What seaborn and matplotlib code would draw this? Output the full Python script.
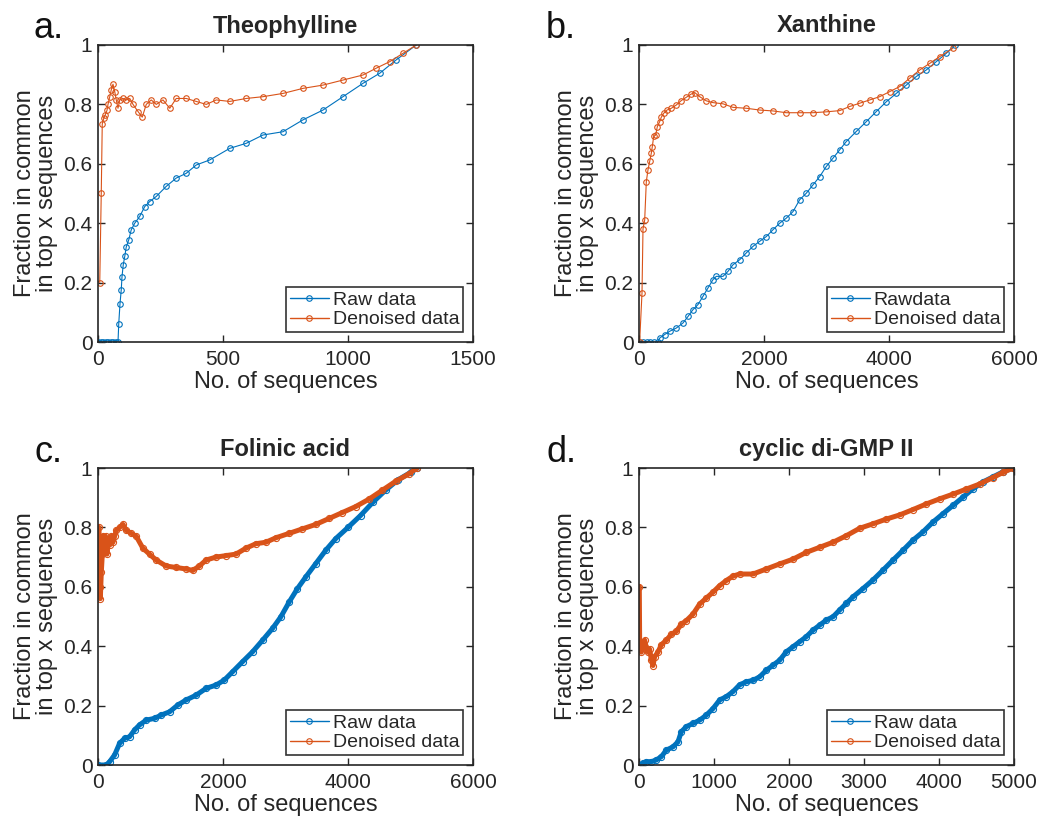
import numpy as np
import pandas as pd
import matplotlib
matplotlib.use("Agg")
import matplotlib.pyplot as plt
import seaborn as sns

sns.set_style("ticks")
plt.rcParams['font.family'] = ['Liberation Sans', 'DejaVu Sans']

BLUE = "#0072BD"
ORANGE = "#D95319"

# ---------------- data ----------------
# a. Theophylline
a_raw_x = [0, 10, 20, 30, 40, 50, 60, 70, 80, 83, 88, 93, 96, 101, 107, 113, 123, 133, 147, 167, 187, 207, 233, 273, 313,
           353, 393, 447, 527, 593, 660, 740, 820, 900, 980, 1060, 1127, 1193, 1273]
a_raw_y = [0, 0, 0, 0, 0, 0, 0, 0, 0, 0.062, 0.129, 0.176, 0.22, 0.26, 0.288, 0.32, 0.344, 0.378, 0.40, 0.423, 0.456, 0.473,
           0.49, 0.524, 0.552, 0.568, 0.596, 0.613, 0.652, 0.669, 0.697, 0.708, 0.748, 0.781, 0.826, 0.871, 0.905, 0.95, 1.0]
a_den_x = [7, 13, 17, 23, 29, 36, 40, 47, 53, 60, 67, 73, 80, 87, 100, 113, 127, 140, 160, 177, 193, 213, 233, 260, 287,
           313, 353, 393, 433, 473, 527, 593, 660, 740, 820, 900, 980, 1060, 1113, 1167, 1220, 1273]
a_den_y = [0.20, 0.50, 0.734, 0.753, 0.765, 0.78, 0.80, 0.826, 0.849, 0.868, 0.843, 0.815, 0.787, 0.815, 0.82, 0.815, 0.82,
           0.80, 0.776, 0.757, 0.80, 0.815, 0.80, 0.815, 0.787, 0.82, 0.82, 0.81, 0.80, 0.815, 0.81, 0.82, 0.826, 0.837,
           0.854, 0.865, 0.882, 0.899, 0.922, 0.944, 0.972, 1.0]

# b. Xanthine
b_raw_x = [0, 60, 120, 180, 240, 304, 330, 410, 490, 597, 704, 784, 864, 944, 1024, 1104, 1184, 1237, 1344, 1424, 1504,
           1611, 1717, 1824, 1931, 2037, 2144, 2251, 2357, 2464, 2571, 2677, 2784, 2891, 2997, 3104, 3211, 3317, 3477,
           3637, 3797, 3957, 4117, 4277, 4437, 4597, 4757, 4917, 5051]
b_raw_y = [0, 0, 0, 0, 0, 0, 0.013, 0.025, 0.036, 0.047, 0.064, 0.086, 0.109, 0.126, 0.154, 0.182, 0.21, 0.221, 0.221,
           0.238, 0.26, 0.277, 0.30, 0.322, 0.339, 0.355, 0.378, 0.40, 0.417, 0.439, 0.479, 0.501, 0.529, 0.557, 0.591,
           0.619, 0.647, 0.675, 0.709, 0.742, 0.776, 0.809, 0.837, 0.865, 0.894, 0.916, 0.944, 0.972, 1.0]
b_den_x = [10, 48, 64, 91, 117, 144, 171, 197, 213, 235, 267, 293, 331, 357, 395, 448, 517, 597, 677, 757, 837, 891, 971,
           1077, 1184, 1344, 1504, 1717, 1931, 2144, 2357, 2571, 2784, 2997, 3211, 3371, 3531, 3691, 3851, 4011, 4171,
           4331, 4491, 4651, 4811, 5024]
b_den_y = [0, 0.165, 0.381, 0.411, 0.54, 0.58, 0.608, 0.636, 0.658, 0.692, 0.697, 0.725, 0.742, 0.757, 0.77, 0.781, 0.787,
           0.798, 0.813, 0.824, 0.835, 0.84, 0.826, 0.812, 0.806, 0.802, 0.79, 0.787, 0.781, 0.778, 0.772, 0.772, 0.772,
           0.775, 0.779, 0.793, 0.804, 0.815, 0.826, 0.843, 0.86, 0.888, 0.916, 0.938, 0.961, 0.989]

# c. Folinic acid
c_raw_x = [0, 133, 186, 266, 346, 426, 505, 585, 665, 771, 904, 1011, 1144, 1277, 1410, 1569, 1729, 1888, 2021, 2154,
           2314, 2473, 2633, 2793, 2926, 3059, 3191, 3324, 3484, 3644, 3803, 4000, 4200, 4400, 4600, 4800, 5000, 5106]
c_raw_y = [0, 0, 0.011, 0.034, 0.073, 0.09, 0.095, 0.118, 0.135, 0.151, 0.157, 0.168, 0.179, 0.202, 0.219, 0.235, 0.258,
           0.269, 0.286, 0.314, 0.348, 0.381, 0.42, 0.46, 0.499, 0.549, 0.594, 0.633, 0.678, 0.723, 0.762, 0.80, 0.84,
           0.885, 0.925, 0.96, 0.985, 1.0]
c_den_x = [16, 27, 37, 53, 69, 80, 106, 122, 144, 160, 186, 213, 239, 266, 293, 346, 399, 452, 532, 612, 718, 824, 931,
           1090, 1250, 1410, 1516, 1622, 1729, 1888, 2048, 2207, 2367, 2527, 2686, 2846, 3059, 3271, 3484, 3697, 3910,
           4122, 4335, 4548, 4761, 4973, 5106]
c_den_y = [0.80, 0.60, 0.56, 0.65, 0.71, 0.77, 0.73, 0.77, 0.71, 0.76, 0.74, 0.77, 0.75, 0.77, 0.79, 0.80, 0.81, 0.79,
           0.78, 0.77, 0.73, 0.71, 0.69, 0.67, 0.665, 0.66, 0.655, 0.67, 0.69, 0.70, 0.705, 0.71, 0.73, 0.745, 0.75,
           0.765, 0.78, 0.795, 0.81, 0.83, 0.85, 0.87, 0.895, 0.925, 0.955, 0.98, 1.0]

# d. cyclic di-GMP II
d_raw_x = [0, 53, 98, 164, 231, 298, 364, 453, 520, 564, 631, 720, 809, 898, 987, 1076, 1164, 1253, 1342, 1431, 1520,
           1609, 1698, 1787, 1876, 1964, 2053, 2142, 2231, 2320, 2409, 2498, 2587, 2676, 2764, 2853, 2987, 3120, 3253,
           3387, 3520, 3653, 3787, 3920, 4053, 4187, 4320, 4453, 4587, 4720, 4853, 4987]
d_raw_y = [0, 0.006, 0.011, 0.011, 0.017, 0.028, 0.05, 0.061, 0.078, 0.112, 0.129, 0.14, 0.151, 0.168, 0.19, 0.219, 0.23,
           0.247, 0.27, 0.28, 0.285, 0.297, 0.319, 0.336, 0.353, 0.381, 0.398, 0.415, 0.432, 0.454, 0.471, 0.488, 0.499,
           0.522, 0.544, 0.566, 0.594, 0.623, 0.656, 0.69, 0.723, 0.757, 0.785, 0.818, 0.846, 0.874, 0.902, 0.93, 0.953,
           0.97, 0.987, 1.0]
d_den_x = [4, 9, 31, 53, 76, 98, 120, 142, 164, 187, 209, 253, 298, 364, 431, 498, 564, 631, 720, 809, 898, 987, 1076,
           1164, 1253, 1342, 1520, 1698, 1876, 2053, 2231, 2409, 2587, 2764, 2942, 3120, 3298, 3476, 3653, 3831, 4009,
           4187, 4364, 4542, 4720, 4853, 4987]
d_den_y = [0.60, 0.40, 0.38, 0.40, 0.42, 0.395, 0.38, 0.39, 0.355, 0.335, 0.365, 0.38, 0.405, 0.42, 0.44, 0.45, 0.474,
           0.486, 0.508, 0.542, 0.562, 0.582, 0.604, 0.621, 0.636, 0.643, 0.643, 0.66, 0.677, 0.693, 0.716, 0.733, 0.75,
           0.772, 0.797, 0.812, 0.828, 0.842, 0.86, 0.879, 0.896, 0.912, 0.929, 0.946, 0.968, 0.985, 1.0]

titles = ["Theophylline", "Xanthine", "Folinic acid", "cyclic di-GMP II"]
letters = ["a.", "b.", "c.", "d."]
raw_labels = ["Raw data", "Rawdata", "Raw data", "Raw data"]
den_label = "Denoised data"
xlims = [1500, 6000, 6000, 5000]
xticks = [[0, 500, 1000, 1500], [0, 2000, 4000, 6000], [0, 2000, 4000, 6000], [0, 1000, 2000, 3000, 4000, 5000]]
yticks = [0, 0.2, 0.4, 0.6, 0.8, 1]
ytick_labels = ["0", "0.2", "0.4", "0.6", "0.8", "1"]

series = [(a_raw_x, a_raw_y, a_den_x, a_den_y), (b_raw_x, b_raw_y, b_den_x, b_den_y),
          (c_raw_x, c_raw_y, c_den_x, c_den_y), (d_raw_x, d_raw_y, d_den_x, d_den_y)]

fig = plt.figure(figsize=(10.4, 8.22), dpi=100)
W, H = 1040, 822
boxes = [(98, 45, 473, 342), (639, 45, 1014, 342), (98, 468, 473, 765), (639, 468, 1014, 765)]
letter_pos = [(49, 28), (561, 28), (49, 452), (561, 452)]

for i, (l, t, r, b) in enumerate(boxes):
    ax = fig.add_axes([l / W, 1 - b / H, (r - l) / W, (b - t) / H])
    rx, ry, dx, dy = series[i]
    thick = i >= 2
    lw = 3.6 if thick else 0.8
    ms = 4.4 if thick else 4.0
    df_r = pd.DataFrame({"x": rx, "y": ry})
    df_d = pd.DataFrame({"x": dx, "y": dy})
    sns.lineplot(data=df_r, x="x", y="y", ax=ax, color=BLUE, lw=lw, marker="o", markersize=ms,
                 markerfacecolor="none", markeredgecolor=BLUE, markeredgewidth=0.8,
                 sort=False, estimator=None, label=raw_labels[i])
    sns.lineplot(data=df_d, x="x", y="y", ax=ax, color=ORANGE, lw=lw, marker="o", markersize=ms,
                 markerfacecolor="none", markeredgecolor=ORANGE, markeredgewidth=0.8,
                 sort=False, estimator=None, label=den_label)
    ax.set_xlim(0, xlims[i])
    ax.set_ylim(0, 1)
    ax.set_xticks(xticks[i])
    ax.set_xticklabels([str(v) for v in xticks[i]])
    ax.set_yticks(yticks)
    ax.set_yticklabels(ytick_labels)
    ax.tick_params(direction="in", top=True, right=True, length=5, width=1.0, labelsize=15,
                   colors="#262626", labelcolor="#262626", pad=4)
    ax.tick_params(axis="x", pad=6)
    for s in ax.spines.values():
        s.set_linewidth(1.2)
        s.set_color("#262626")
        s.set_visible(True)
    ax.set_xlabel("No. of sequences", fontsize=17, color="#262626", labelpad=1)
    ax.set_ylabel("Fraction in common\nin top x sequences", fontsize=17, color="#262626", labelpad=4,
                  linespacing=1.0)
    ax.set_title(titles[i], fontsize=17, fontweight="bold", pad=9)
    leg = ax.legend(loc="lower right", fontsize=14, frameon=True, fancybox=False, edgecolor="black",
                    handlelength=2.0, handletextpad=0.2, borderpad=0.2, labelspacing=0.1,
                    borderaxespad=0.5, markerscale=1.0)
    leg.get_frame().set_linewidth(1.2)
    for h in leg.get_lines():
        h.set_linewidth(1.0)
        h.set_markersize(4.0)
    lx, ly = letter_pos[i]
    fig.text(lx / W, 1 - ly / H, letters[i], fontsize=26, ha="center", va="center", color="#111111")

fig.savefig("out.png", dpi=100)
